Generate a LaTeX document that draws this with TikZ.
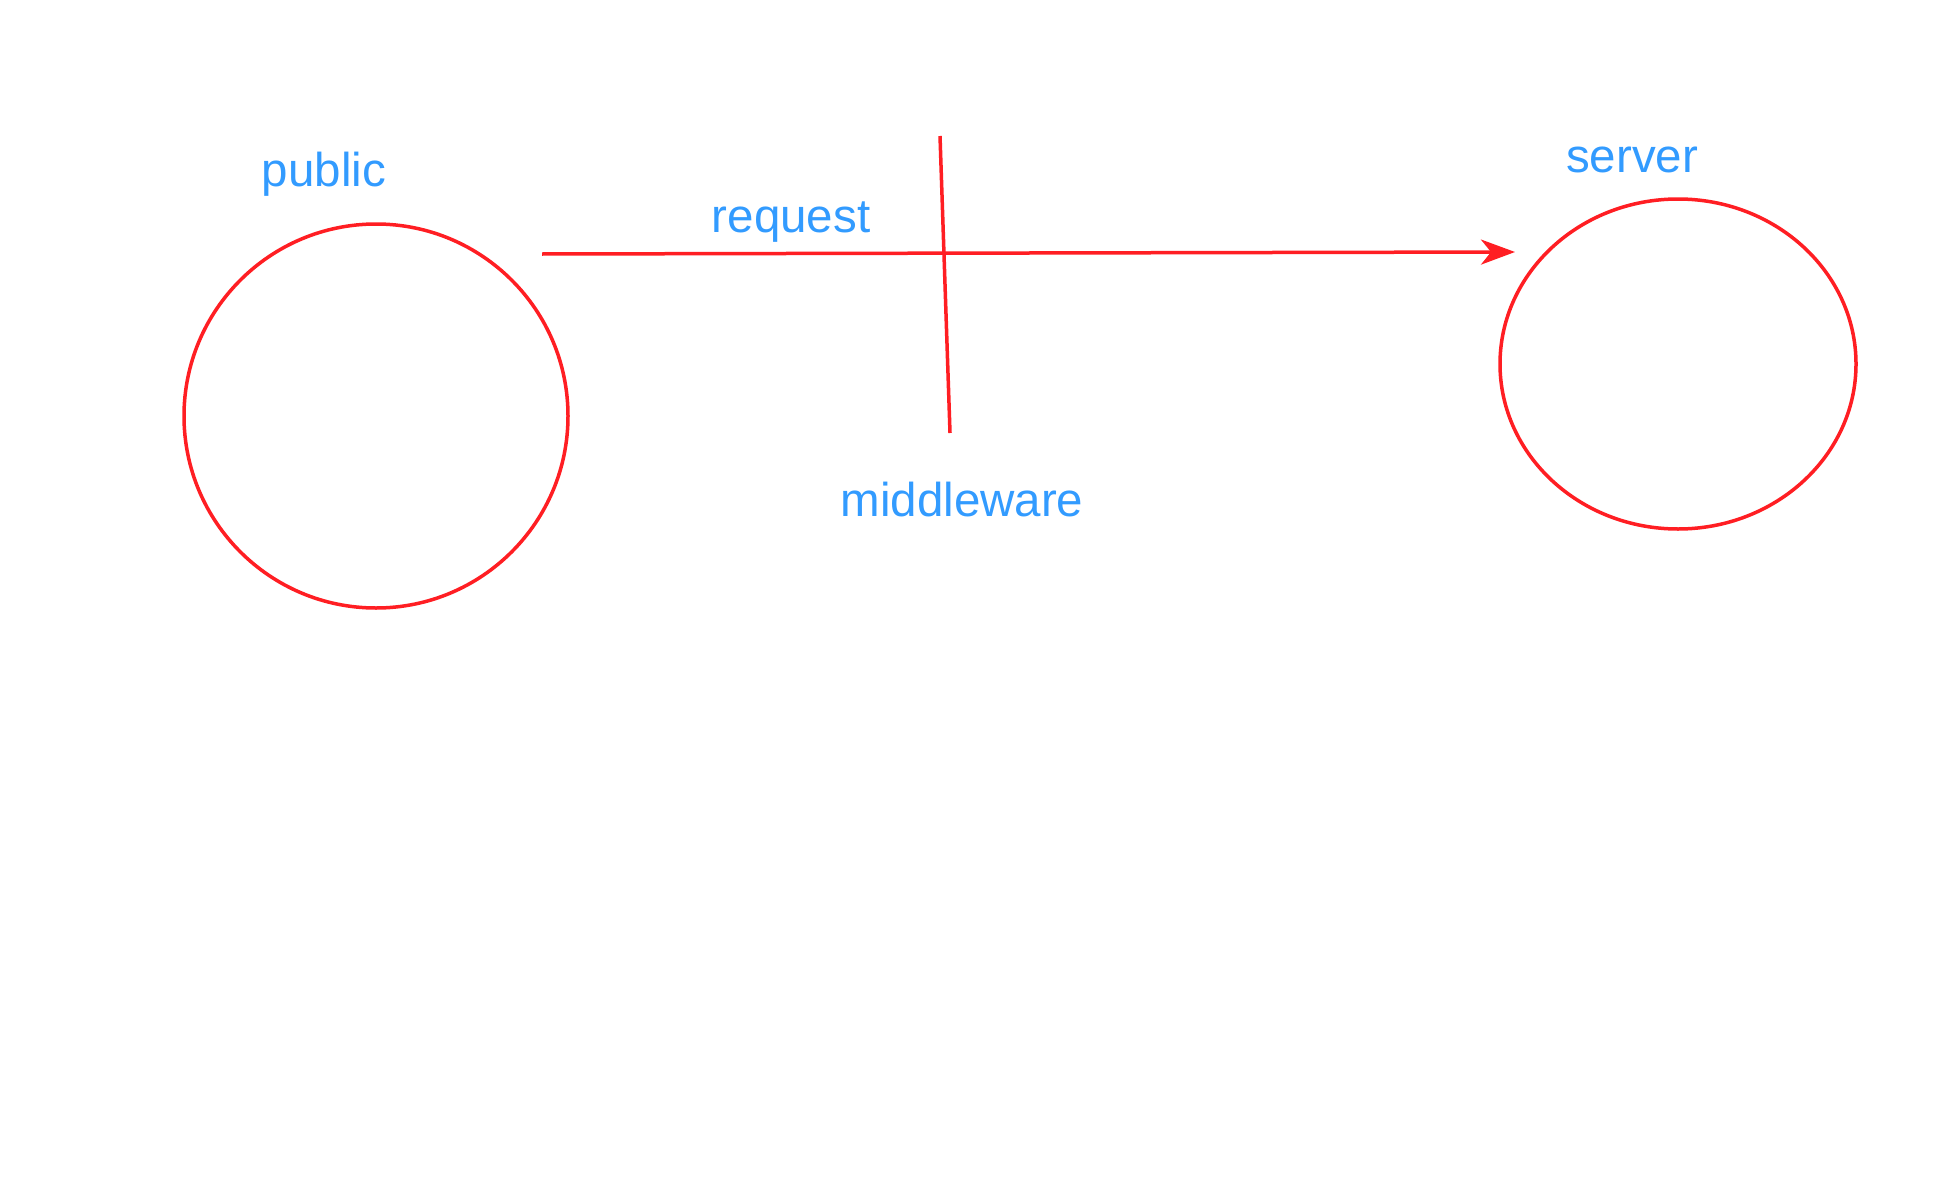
\documentclass[tikz,border=0pt]{standalone}
\usepackage{fontspec}
\setmainfont{Liberation Sans}
\usetikzlibrary{arrows.meta,shapes.geometric}
\definecolor{lred}{RGB}{255,30,35}
\definecolor{lblue}{RGB}{50,155,255}
\begin{document}
\begin{tikzpicture}[x=1pt,y=-1pt,
  redshape/.style={draw=lred,line width=3.5pt},
  lbl/.style={text=lblue,font=\fontsize{47.5}{56}\selectfont,inner sep=0pt},
  conn/.style={draw=lred,line width=3.5pt}]
\useasboundingbox[fill=white] (0,0) rectangle (1958,1180);
\node[redshape,circle,minimum size=384pt,inner sep=0pt] (public) at (376,416) {};
\node[redshape,ellipse,minimum width=356pt,minimum height=330pt,inner sep=0pt] (server) at (1678,364) {};
\node[lbl] (publiclbl) at (324,174) {public};
\node[lbl] (serverlbl) at (1632,160) {server};
\node[lbl] (requestlbl) at (791,222) {request};
\node[lbl] (mwlbl) at (962,500) {middleware};
\coordinate (rs) at (542,254);
\coordinate (re) at (1515,252);
\coordinate (mt) at (940,136);
\coordinate (mb) at (950,433);
\draw[conn,-{Stealth[length=34pt,width=25pt,inset=10pt]}] (rs) -- (re);
\draw[conn] (mt) -- (mb);
\end{tikzpicture}
\end{document}
